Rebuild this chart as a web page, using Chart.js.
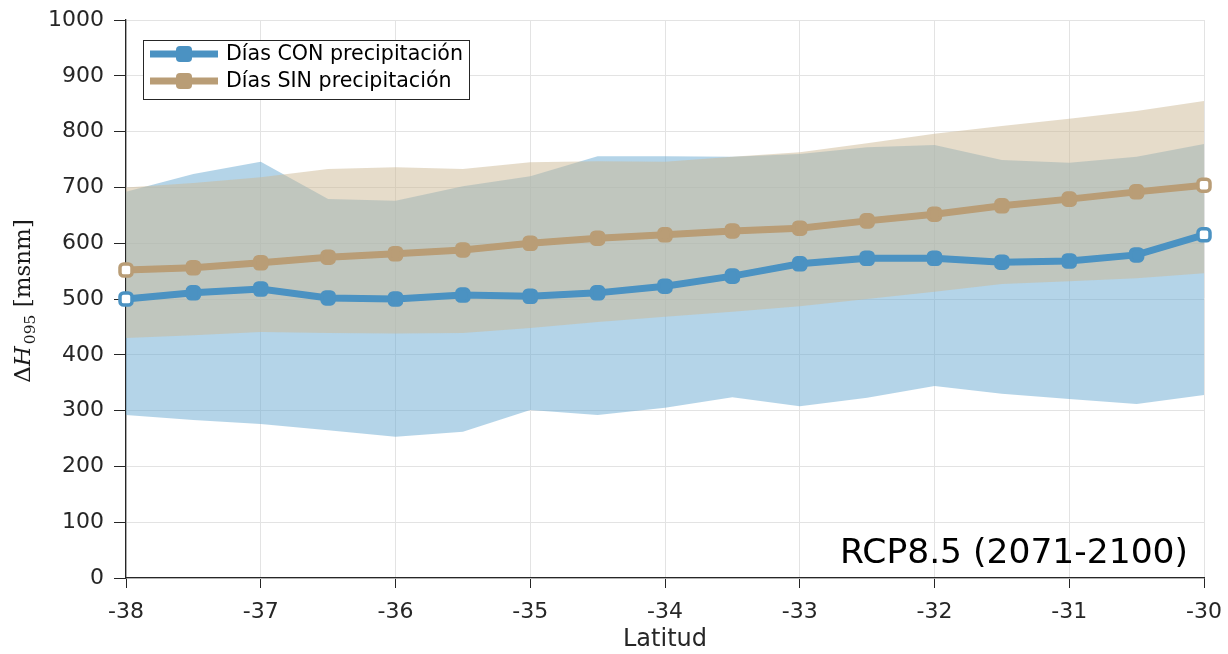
<!DOCTYPE html>
<html>
<head>
<meta charset="utf-8">
<script src="https://cdn.jsdelivr.net/npm/chart.js@4.4.0/dist/chart.umd.min.js"></script>
<style>
  html, body { margin: 0; padding: 0; background: #fff; }
  #wrap { width: 1228px; height: 654px; position: relative; }
</style>
</head>
<body>
<div id="wrap"><canvas id="chart"></canvas></div>
<script>
// Latitudes (x) and values
const latitudes = [-38, -37.5, -37, -36.5, -36, -35.5, -35, -34.5, -34, -33.5, -33, -32.5, -32, -31.5, -31, -30.5, -30];

// Días CON precipitación
const conMean = [500, 511, 518, 502, 500, 507, 505, 511, 523, 541, 563, 573, 573, 566, 568, 579, 615];
const conHigh = [692, 724, 746, 679, 676, 702, 720, 756, 756, 755, 760, 772, 776, 749, 744, 755, 778];
const conLow  = [292, 283, 276, 265, 253, 262, 301, 292, 305, 324, 308, 323, 344, 330, 321, 312, 328];

// Días SIN precipitación
const sinMean = [552, 556, 565, 575, 581, 588, 600, 609, 615, 622, 627, 640, 652, 667, 679, 692, 704];
const sinHigh = [700, 708, 718, 733, 736, 733, 745, 747, 746, 755, 763, 779, 796, 810, 823, 837, 855];
const sinLow  = [430, 435, 441, 439, 438, 439, 448, 459, 468, 477, 487, 500, 513, 527, 532, 537, 546];

const seriesNames = ['Días CON precipitación', 'Días SIN precipitación'];
const xTicks = [-38, -37, -36, -35, -34, -33, -32, -31, -30];
const yTicks = [0, 100, 200, 300, 400, 500, 600, 700, 800, 900, 1000];
const annotationText = 'RCP8.5 (2071-2100)';

const blue = '#4b92c2';
const brown = '#b99d76';
const blueFill = 'rgba(105,169,209,0.5)';
const brownFill = 'rgba(205,185,149,0.5)';
const axisColor = '#262626';

function pts(arr) {
    return latitudes.map((x, i) => ({ x: x, y: arr[i] }));
}

// hollow markers at the first and last point
function markerFill(color) {
    return latitudes.map((x, i) => (i === 0 || i === latitudes.length - 1) ? '#ffffff' : color);
}

function lineSet(label, data, color) {
    return {
        label: label,
        data: pts(data),
        borderColor: color,
        backgroundColor: color,
        borderWidth: 7,
        pointStyle: 'rectRounded',
        pointRadius: 7,
        pointBorderWidth: 3.5,
        pointBorderColor: color,
        pointBackgroundColor: markerFill(color),
        fill: false,
        clip: false,
        order: 0
    };
}

function bandSet(data, fillColor, fill, order) {
    return {
        label: '',
        data: pts(data),
        borderWidth: 0,
        borderColor: 'rgba(0,0,0,0)',
        backgroundColor: fillColor,
        pointRadius: 0,
        fill: fill,
        order: order
    };
}

// Legend box drawn inside the plot area
const legendBox = {
    id: 'legendBox',
    afterDraw(chart) {
        const ctx = chart.ctx;
        const x0 = 143, y0 = 40, w = 326, h = 59;
        ctx.save();
        ctx.fillStyle = '#ffffff';
        ctx.fillRect(x0, y0, w, h);
        ctx.strokeStyle = axisColor;
        ctx.lineWidth = 1;
        ctx.strokeRect(x0 + 0.5, y0 + 0.5, w, h);
        const rows = [[seriesNames[0], blue, 54], [seriesNames[1], brown, 81]];
        rows.forEach(r => {
            ctx.strokeStyle = r[1];
            ctx.lineWidth = 7;
            ctx.beginPath();
            ctx.moveTo(150, r[2]);
            ctx.lineTo(218, r[2]);
            ctx.stroke();
            ctx.fillStyle = r[1];
            ctx.beginPath();
            ctx.roundRect(176, r[2] - 8, 16, 16, 4);
            ctx.fill();
            ctx.fillStyle = '#000000';
            ctx.font = '20.6px "DejaVu Sans"';
            ctx.textBaseline = 'middle';
            ctx.textAlign = 'left';
            ctx.fillText(r[0], 226, r[2] + 1);
        });
        ctx.restore();
    }
};

// Scenario text and y-axis label (ΔH_095 [msnm])
const extraText = {
    id: 'extraText',
    afterDraw(chart) {
        const ctx = chart.ctx;
        ctx.save();
        ctx.fillStyle = '#000000';
        ctx.font = '34.5px "DejaVu Sans"';
        ctx.textAlign = 'right';
        ctx.textBaseline = 'alphabetic';
        ctx.fillText(annotationText, 1188, 563);

        ctx.translate(30, 301);
        ctx.rotate(-Math.PI / 2);
        ctx.fillStyle = '#1a1a1a';
        const big = '23px "DejaVu Serif"';
        const ital = 'italic 23px "DejaVu Serif"';
        const small = '15.5px "DejaVu Serif"';
        const parts = [['Δ', big, 0], ['H', ital, 0], ['095', small, 5], [' [msnm]', big, 0]];
        let total = 0;
        parts.forEach(p => { ctx.font = p[1]; total += ctx.measureText(p[0]).width + (p[0] === 'H' ? 2 : 0); });
        let x = -total / 2;
        ctx.textAlign = 'left';
        parts.forEach(p => {
            ctx.font = p[1];
            ctx.fillText(p[0], x, p[2]);
            x += ctx.measureText(p[0]).width + (p[0] === 'H' ? 2 : 0);
        });
        ctx.restore();
    }
};

const ctx = document.getElementById('chart').getContext('2d');
const chart = new Chart(ctx, {
    type: 'line',
    data: {
        datasets: [
            lineSet(seriesNames[0], conMean, blue),
            lineSet(seriesNames[1], sinMean, brown),
            bandSet(sinHigh, brownFill, '+1', 1),
            bandSet(sinLow, brownFill, false, 1),
            bandSet(conHigh, blueFill, '+1', 2),
            bandSet(conLow, blueFill, false, 2)
        ]
    },
    options: {
        responsive: true,
        maintainAspectRatio: false,
        animation: false,
        layout: { padding: { left: 0, right: 24, top: 20, bottom: 0 } },
        plugins: {
            legend: { display: false },
            tooltip: { enabled: false },
            filler: { propagate: false }
        },
        scales: {
            x: {
                type: 'linear',
                min: -38,
                max: -30,
                afterFit: s => { s.height = 76; s.paddingLeft = 0; s.paddingRight = 0; },
                afterBuildTicks: s => { s.ticks = xTicks.map(v => ({ value: v })); },
                grid: { color: '#e3e3e3', lineWidth: 1, tickColor: axisColor, tickLength: 10 },
                border: { color: axisColor, width: 1.3 },
                ticks: {
                    color: axisColor,
                    font: { family: 'DejaVu Sans', size: 22 },
                    padding: 11,
                    maxRotation: 0,
                    callback: v => String(v)
                },
                title: {
                    display: true,
                    text: 'Latitud',
                    color: axisColor,
                    font: { family: 'DejaVu Sans', size: 24 },
                    padding: { top: 0, bottom: 0 }
                }
            },
            y: {
                min: 0,
                max: 1000,
                afterFit: s => { s.width = 126; s.paddingTop = 0; s.paddingBottom = 0; },
                afterBuildTicks: s => { s.ticks = yTicks.map(v => ({ value: v })); },
                grid: { color: '#e3e3e3', lineWidth: 1, tickColor: axisColor, tickLength: 12 },
                border: { color: axisColor, width: 1.3 },
                ticks: {
                    color: axisColor,
                    font: { family: 'DejaVu Sans', size: 22 },
                    padding: 10,
                    callback: v => String(v)
                }
            }
        }
    },
    plugins: [legendBox, extraText]
});
</script>
</body>
</html>
